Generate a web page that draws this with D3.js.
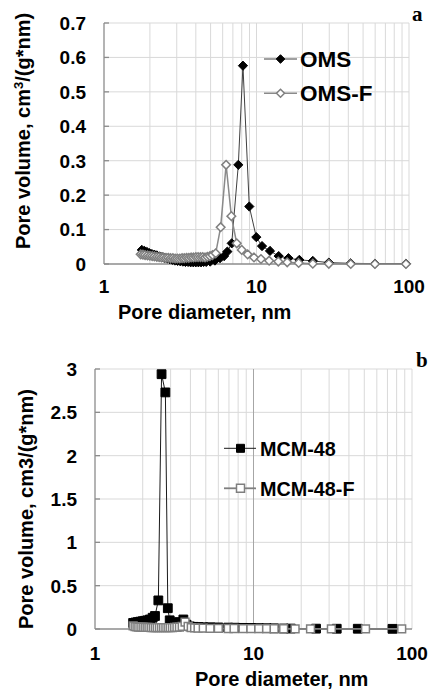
<!DOCTYPE html>
<html><head><meta charset="utf-8">
<script src="https://cdn.jsdelivr.net/npm/d3@7"></script>
<style>
html,body{margin:0;padding:0;background:#fff;}
svg text{font-family:"Liberation Sans",Arial,sans-serif;font-weight:bold;fill:#000;}
</style></head>
<body><svg id="c" width="430" height="693"></svg>
<script>
// ---------- Panel a data ----------
const omsD = [1.77,1.84,1.91,1.98,2.06,2.14,2.22,2.31,2.40,2.50,2.60,2.70,2.81,2.92,3.04,3.16,3.29,3.42,3.56,3.70,3.85,4.00,4.16,4.33,4.50,4.68,4.97,5.34,5.76,6.13,6.44,6.88,7.60,8.15,8.97,9.97,10.87,12.26,13.98,16.2,19.1,23.4,29.8,41.5,59.8,95.5];
const omsV = [0.041,0.038,0.035,0.032,0.029,0.027,0.025,0.022,0.020,0.018,0.016,0.014,0.012,0.010,0.009,0.008,0.007,0.006,0.006,0.005,0.005,0.005,0.005,0.005,0.006,0.006,0.007,0.010,0.017,0.023,0.036,0.060,0.288,0.576,0.167,0.078,0.052,0.038,0.023,0.017,0.012,0.009,0.004,0.002,0.001,0.001];
const omsfD = [1.74,1.80,1.86,1.93,2.00,2.07,2.14,2.22,2.30,2.38,2.46,2.55,2.64,2.73,2.83,2.93,3.03,3.14,3.25,3.36,3.48,3.60,3.73,3.86,4.00,4.14,4.29,4.44,4.60,4.76,4.95,5.15,5.40,5.82,6.32,6.84,7.42,8.00,8.75,9.63,10.7,12.1,13.9,15.9,18.9,23.4,29.8,41.5,59.8,95.5];
const omsfV = [0.028,0.027,0.026,0.025,0.024,0.023,0.022,0.021,0.020,0.019,0.019,0.018,0.018,0.017,0.017,0.016,0.016,0.016,0.017,0.017,0.018,0.018,0.019,0.019,0.020,0.020,0.020,0.020,0.019,0.021,0.023,0.026,0.031,0.107,0.288,0.139,0.060,0.041,0.028,0.019,0.0145,0.0096,0.007,0.005,0.003,0.001,0.0005,0,0,0];
const aYTicks = [0,0.1,0.2,0.3,0.4,0.5,0.6,0.7];
const aYLabels = ["0","0.1","0.2","0.3","0.4","0.5","0.6","0.7"];

// ---------- Panel b data ----------
const mcmD = [1.74,1.80,1.86,1.93,2.00,2.07,2.14,2.22,2.31,2.39,2.51,2.63,2.78,2.88,2.96,3.08,3.22,3.38,3.61,3.78,3.97,4.20,4.50,4.82,5.32,6.00,6.93,7.63,8.59,9.63,10.8,12.1,13.5,15.5,17.2,24.8,33.5,45.5,75.3];
const mcmV = [0.07,0.075,0.08,0.085,0.09,0.095,0.10,0.11,0.13,0.15,0.33,2.94,2.73,0.24,0.10,0.07,0.06,0.08,0.11,0.05,0.03,0.025,0.022,0.02,0.02,0.018,0.016,0.015,0.013,0.012,0.010,0.009,0.008,0.006,0.005,0.004,0.003,0.003,0.002];
const mcmfD = [1.74,1.79,1.84,1.89,1.95,2.01,2.07,2.13,2.19,2.26,2.33,2.40,2.47,2.55,2.63,2.71,2.80,2.89,2.98,3.08,3.18,3.29,3.41,3.55,3.70,3.87,4.05,4.25,4.47,4.82,5.32,6.00,6.93,7.54,8.59,9.63,10.8,12.1,13.5,15.5,18.3,22.9,31.0,50.9,86.1];
const mcmfV = [0.035,0.028,0.024,0.022,0.021,0.020,0.019,0.018,0.018,0.017,0.017,0.016,0.016,0.016,0.015,0.015,0.015,0.015,0.016,0.017,0.018,0.020,0.022,0.030,0.080,0.030,0.015,0.012,0.010,0.009,0.008,0.007,0.006,0.006,0.005,0.005,0.004,0.004,0.003,0.003,0.002,0.002,0.001,0.001,0.001];
const bYTicks = [0,0.5,1,1.5,2,2.5,3];
const bYLabels = ["0","0.5","1","1.5","2","2.5","3"];

const xTicks = [1,10,100];
const xLabels = ["1","10","100"];
const xMinor = [2,3,4,5,6,7,8,9,10,20,30,40,50,60,70,80,90,100];
const yTitle = "Pore volume, cm";
const xTitle = "Pore diameter, nm";

const svg = d3.select("#c");

function panel(cfg){
  const g = svg.append("g");
  const x = d3.scaleLog().domain([1,100]).range([cfg.x0,cfg.x1]);
  const y = d3.scaleLinear().domain([0,cfg.ymax]).range([cfg.y0,cfg.y1]);
  // grid
  g.selectAll("line.hg").data(cfg.yTicks.slice(1)).join("line")
    .attr("x1",cfg.x0).attr("x2",cfg.x1).attr("y1",d=>y(d)).attr("y2",d=>y(d))
    .attr("stroke","#d9d9d9").attr("stroke-width",1);
  g.selectAll("line.vg").data(xMinor).join("line")
    .attr("x1",d=>x(d)).attr("x2",d=>x(d)).attr("y1",cfg.y0).attr("y2",cfg.y1)
    .attr("stroke",d=>(d===10&&cfg.dark10)?"#a6a6a6":"#d9d9d9").attr("stroke-width",1);
  // axes
  g.append("line").attr("x1",cfg.x0).attr("x2",cfg.x0).attr("y1",cfg.y0).attr("y2",cfg.y1).attr("stroke","#8c8c8c").attr("stroke-width",1.3);
  g.append("line").attr("x1",cfg.x0).attr("x2",cfg.x1).attr("y1",cfg.y0).attr("y2",cfg.y0).attr("stroke","#8c8c8c").attr("stroke-width",1.3);
  g.selectAll("line.tk").data(cfg.yTicks).join("line")
    .attr("x1",cfg.x0).attr("x2",cfg.x0+5).attr("y1",d=>y(d)).attr("y2",d=>y(d)).attr("stroke","#8c8c8c").attr("stroke-width",1.3);
  // tick labels
  g.selectAll("text.yl").data(cfg.yTicks).join("text")
    .attr("x",cfg.ylx).attr("y",d=>y(d)).attr("dy","0.36em").attr("text-anchor","end")
    .attr("font-size",19).text((d,i)=>cfg.yLabels[i]);
  g.selectAll("text.xl").data(xTicks).join("text")
    .attr("x",d=>x(d)).attr("y",cfg.xly).attr("text-anchor","middle")
    .attr("font-size",19).text((d,i)=>xLabels[i]);
  // titles
  g.append("text").attr("x",cfg.xtx).attr("y",cfg.xty).attr("font-size",20).text(xTitle);
  const yt = g.append("text").attr("transform",`translate(${cfg.ytx},${cfg.yty}) rotate(-90)`)
    .attr("text-anchor","middle").attr("font-size",20);
  yt.append("tspan").text(yTitle);
  if(cfg.sup){
    yt.append("tspan").attr("font-size",13).attr("dy",-7).text("3");
    yt.append("tspan").attr("dy",7).text("/(g*nm)");
  } else {
    yt.append("tspan").text("3/(g*nm)");
  }
  g.append("text").attr("x",cfg.lblx).attr("y",cfg.lbly).attr("font-family","'Liberation Serif','Times New Roman',serif")
    .style("font-family","'Liberation Serif','Times New Roman',serif").attr("font-size",21).text(cfg.lbl);
  return {g,x,y};
}

function diamond(s){return `M0,${-s}L${s},0L0,${s}L${-s},0Z`;}
function square(s){return `M${-s},${-s}H${s}V${s}H${-s}Z`;}

function series(p,D,V,lineColor,lineW,shape,fill,stroke,sw){
  const pts = D.map((d,i)=>[p.x(d),p.y(V[i])]);
  p.g.append("path").attr("d",d3.line()(pts)).attr("fill","none").attr("stroke",lineColor).attr("stroke-width",lineW);
  p.g.selectAll(null).data(pts).join("path").attr("d",shape)
    .attr("transform",d=>`translate(${d[0]},${d[1]})`)
    .attr("fill",fill).attr("stroke",stroke).attr("stroke-width",sw);
}
function legendItem(g,lx1,lx2,mx,ly,shape,lineColor,lineW,fill,stroke,sw,tx,ty,size,label){
  g.append("line").attr("x1",lx1).attr("x2",lx2).attr("y1",ly).attr("y2",ly).attr("stroke",lineColor).attr("stroke-width",lineW);
  g.append("path").attr("d",shape).attr("transform",`translate(${mx},${ly})`).attr("fill",fill).attr("stroke",stroke).attr("stroke-width",sw);
  g.append("text").attr("x",tx).attr("y",ty).attr("font-size",size).text(label);
}

// Panel a
const pa = panel({x0:104,x1:409,y0:264,y1:23,ymax:0.7,yTicks:aYTicks,yLabels:aYLabels,ylx:86,xly:293,
  xtx:118,xty:319,ytx:29.5,yty:131,sup:true,lbl:"a",lblx:412,lbly:21,dark10:false});
series(pa,omsD,omsV,"#404040",1,diamond(4.6),"#000","#000",1);
series(pa,omsfD,omsfV,"#8a8a8a",1.5,diamond(4.3),"#fff","#7f7f7f",1.5);
legendItem(pa.g,264,297,280.5,59,diamond(4.3),"#404040",1,"#000","#000",1,300,66.5,22.5,"OMS");
legendItem(pa.g,264,297,280.5,93.3,diamond(4),"#8a8a8a",1.5,"#fff","#7f7f7f",1.5,300,100.5,22.5,"OMS-F");

// Panel b
const pb = panel({x0:95,x1:412,y0:629,y1:369,ymax:3,yTicks:bYTicks,yLabels:bYLabels,ylx:77,xly:660,
  xtx:195,xty:686,ytx:32.5,yty:509,sup:false,lbl:"b",lblx:416,lbly:367,dark10:true});
series(pb,mcmD,mcmV,"#1a1a1a",1,square(4.4),"#000","#000",1);
series(pb,mcmfD,mcmfV,"#7f7f7f",1.8,square(3.9),"#fff","#7f7f7f",1.5);
legendItem(pb.g,224,256,240.5,448.3,square(4),"#1a1a1a",1,"#000","#000",1,260,455.5,19.8,"MCM-48");
legendItem(pb.g,224,256,240.5,488.3,square(4),"#7f7f7f",1.8,"#fff","#7f7f7f",1.5,260,495.5,19.8,"MCM-48-F");
</script></body></html>
